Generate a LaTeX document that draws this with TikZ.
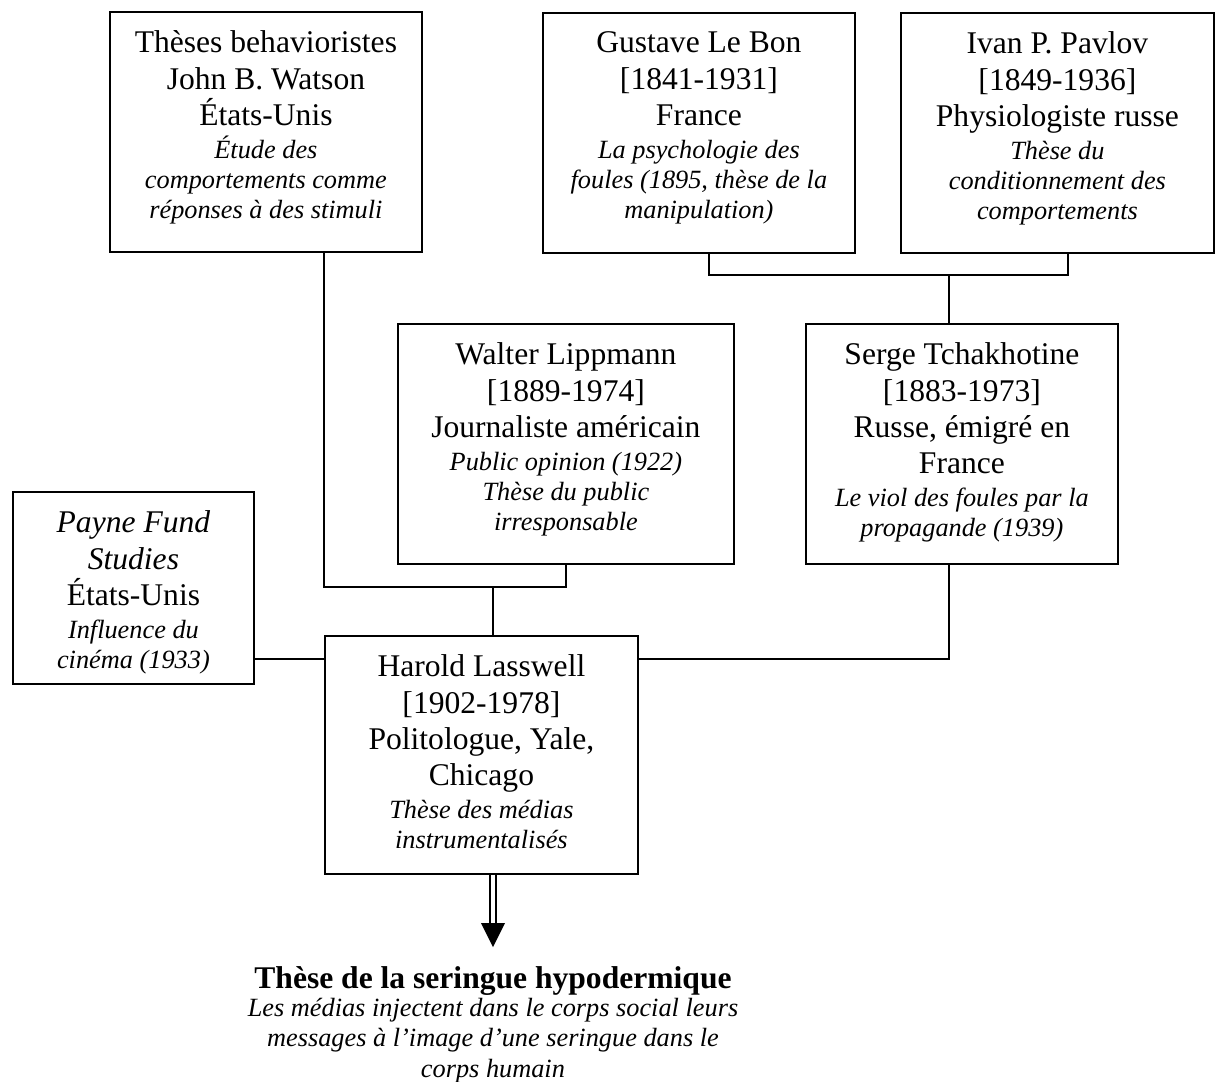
\documentclass[tikz,border=0pt]{standalone}
\usepackage{fontspec}
\setmainfont{Liberation Serif}
\usetikzlibrary{calc}
\newlength{\px}
\setlength{\px}{0.38pt}
\setlength{\parskip}{0pt}
\newcommand{\grand}{\fontsize{12}{13.8}\selectfont}
\newcommand{\petit}{\fontsize{10}{11.5}\selectfont\itshape}
\newcommand{\boite}[3]{\parbox[c][#2\px][t]{#1\px}{\centering\vspace*{19\px}#3}}
\tikzset{
  bloc/.style={draw, line width=0.7pt, inner sep=0pt, anchor=north west},
  lien/.style={line width=0.6pt}
}
\begin{document}
\begin{tikzpicture}[x=0.38pt, y=-0.38pt]
    \useasboundingbox (0,0) rectangle (1219,1082);
    \node[bloc] (watson) at (109,11) {\boite{312}{240}{{\grand Thèses behavioristes\\John B. Watson\\États-Unis\par}{\petit\vspace{1pt}Étude des\\comportements comme\\réponses à des stimuli\par}}};
    \node[bloc] (lebon) at (542,12) {\boite{312}{240}{{\grand Gustave Le Bon\\{[1841-1931]}\\France\par}{\petit\vspace{1pt}La psychologie des\\foules (1895, thèse de la\\manipulation)\par}}};
    \node[bloc] (pavlov) at (900,12) {\boite{313}{240}{{\grand Ivan P. Pavlov\\{[1849-1936]}\\Physiologiste russe\par}{\petit\vspace{1pt}Thèse du\\conditionnement des\\comportements\par}}};
    \node[bloc] (lippmann) at (397,323) {\boite{336}{240}{{\grand Walter Lippmann\\{[1889-1974]}\\Journaliste américain\par}{\petit\vspace{1pt}Public opinion (1922)\\Thèse du public\\irresponsable\par}}};
    \node[bloc] (tchak) at (805,323) {\boite{312}{240}{{\grand Serge Tchakhotine\\{[1883-1973]}\\Russe, émigré en\\France\par}{\petit\vspace{1pt}Le viol des foules par la\\propagande (1939)\par}}};
    \node[bloc] (payne) at (12,491) {\boite{241}{192}{{\grand\itshape Payne Fund\\Studies\par}{\grand États-Unis\par}{\petit\vspace{1pt}Influence du\\cinéma (1933)\par}}};
    \node[bloc] (lasswell) at (324,635) {\boite{313}{238}{{\grand Harold Lasswell\\{[1902-1978]}\\Politologue, Yale,\\Chicago\par}{\petit\vspace{1pt}Thèse des médias\\instrumentalisés\par}}};
    \node[anchor=north, inner sep=0pt] (seringue) at (493,966) {\parbox{600\px}{\centering{\grand\bfseries Thèse de la seringue hypodermique\par}{\petit\vspace{-0.8pt}Les médias injectent dans le corps social leurs\\messages à l’image d’une seringue dans le\\corps humain\par}}};
    \coordinate (j1) at (324,587);
    \coordinate (j2) at (493,587);
    \coordinate (j3) at (709,275);
    \coordinate (j4) at (1068,275);
    \coordinate (j5) at (949,275);
    \coordinate (j6) at (949,659);
    \coordinate (talon) at (493,923);
    \coordinate (pointe) at (493,947);
    \draw[lien] (watson.south -| j1) -- (j1) -| (lippmann.south);
    \draw[lien] (j2) -- (j2 |- lasswell.north);
    \draw[lien] (lebon.south -| j3) -- (j3) -- (j4) -- (pavlov.south -| j4);
    \draw[lien] (j5) -- (j5 |- tchak.north);
    \draw[lien] (tchak.south -| j6) -- (j6) -- (j6 -| lasswell.east);
    \draw[lien] (payne.east |- j6) -- (j6 -| lasswell.west);
    \draw[lien, double, double distance=1.7pt] (lasswell.south -| talon) -- (talon);
    \fill ($(talon)+(-12,0)$) -- ($(talon)+(12,0)$) -- (pointe) -- cycle;
\end{tikzpicture}
\end{document}
